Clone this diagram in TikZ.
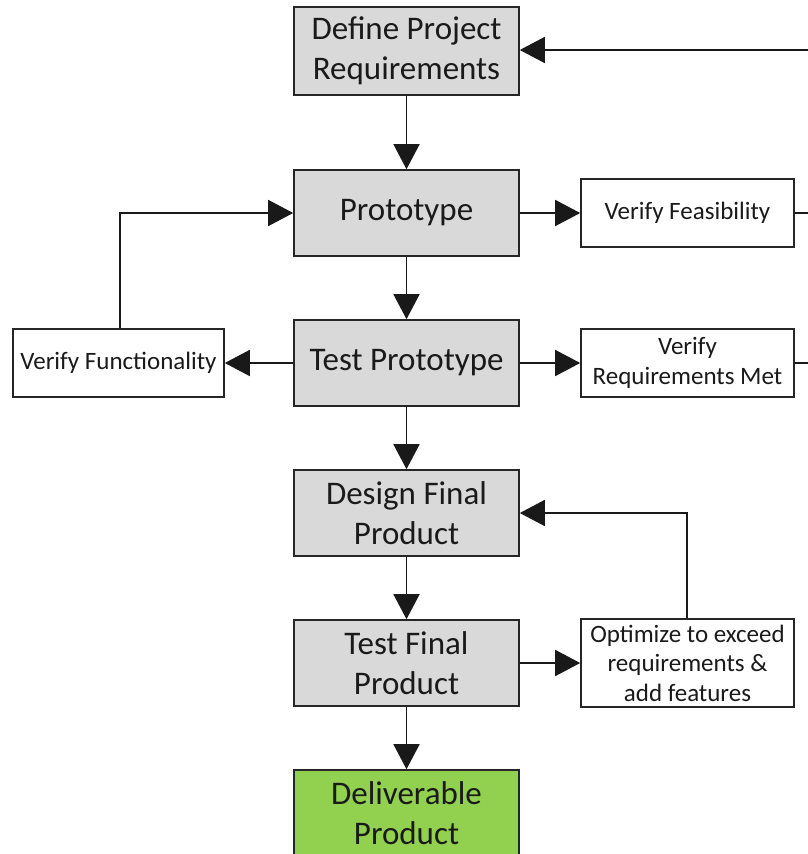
\documentclass[tikz,border=0pt]{standalone}
\usepackage{fontspec}
\setmainfont{Carlito}
\usetikzlibrary{arrows.meta}
\definecolor{boxgray}{HTML}{D9D9D9}
\definecolor{boxgreen}{HTML}{92D050}
\definecolor{txt}{HTML}{1A1A1A}
\tikzset{
  mainbox/.style={draw=black!85, line width=1.6pt, fill=boxgray, minimum width=225pt, minimum height=86pt, align=center, text=txt, font=\fontsize{33}{40}\selectfont, inner sep=0pt},
  sidebox/.style={draw=black!85, line width=1.6pt, fill=white, minimum width=213pt, minimum height=68pt, align=center, text=txt, font=\fontsize{25}{29.5}\selectfont, inner sep=0pt},
  conn/.style={draw=black!90, line width=1.6pt},
  arr/.style={conn, -{Triangle[length=25pt,width=26pt]}}
}
\begin{document}
\begin{tikzpicture}[x=1pt,y=-1pt]
\useasboundingbox (0,0) rectangle (808,854);
\clip (0,0) rectangle (808,854);
\fill[white] (0,0) rectangle (808,854);
% main column
\node[mainbox, minimum height=88pt] (def) at (406.5,51) {Define Project\\Requirements};
\node[mainbox] (proto) at (406.5,213) {Prototype};
\node[mainbox] (testp) at (406.5,363) {Test Prototype};
\node[mainbox] (design) at (406.5,513) {Design Final\\Product};
\node[mainbox] (testf) at (406.5,663) {Test Final\\Product};
\node[mainbox, fill=boxgreen] (deliv) at (406.5,813) {Deliverable\\Product};
% side boxes
\node[sidebox] (feas) at (687.5,213) {Verify Feasibility};
\node[sidebox] (req) at (687.5,363) {Verify\\Requirements Met};
\node[sidebox, minimum width=211pt] (func) at (118.5,363) {Verify Functionality};
\node[sidebox, minimum height=88pt] (opt) at (687.5,663) {Optimize to exceed\\requirements \&\\add features};
% off-page coordinates
\coordinate (e0) at (820,50);
\coordinate (e1) at (820,213);
\coordinate (e2) at (820,363);
\coordinate (fk) at (120,213);
\coordinate (ok) at (687,513);
% vertical flow
\draw[arr] (def) -- (proto);
\draw[arr] (proto) -- (testp);
\draw[arr] (testp) -- (design);
\draw[arr] (design) -- (testf);
\draw[arr] (testf) -- (deliv);
% side arrows
\draw[arr] (proto) -- (feas);
\draw[arr] (testp) -- (req);
\draw[arr] (testp) -- (func);
\draw[arr] (testf) -- (opt);
% feedback
\draw[arr] (func.north -| fk) -- (fk) -- (proto.west);
\draw[arr] (opt.north -| ok) -- (ok) -- (design.east);
\draw[arr] (e0) -- (e0 -| def.east);
\draw[conn] (feas.east) -- (e1);
\draw[conn] (req.east) -- (e2);
\end{tikzpicture}
\end{document}
